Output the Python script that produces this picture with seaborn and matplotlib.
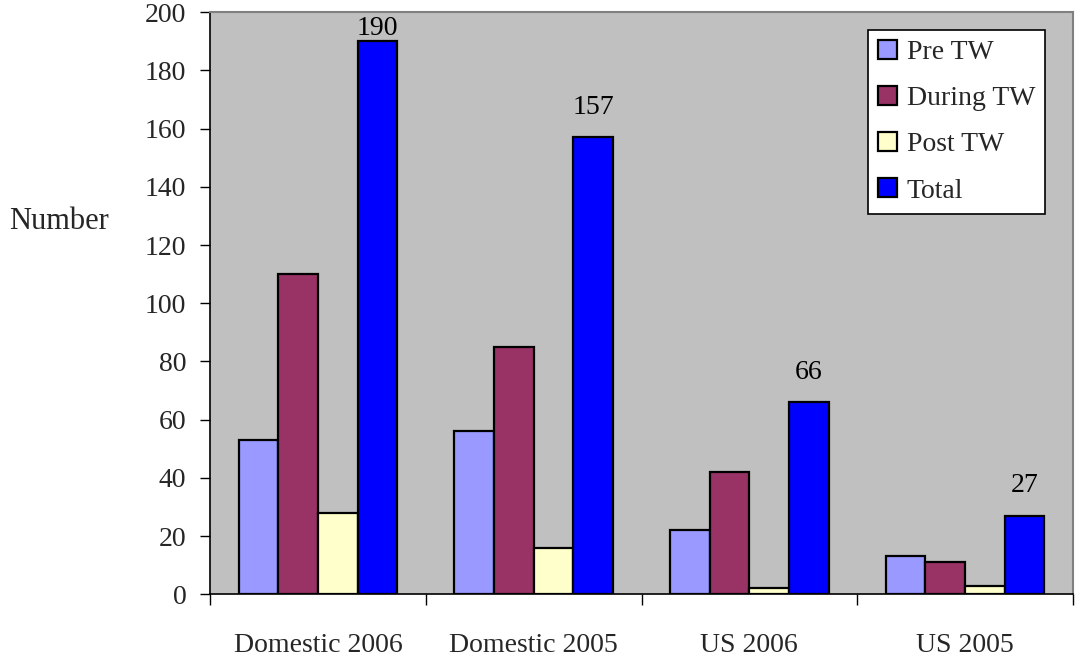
import matplotlib
matplotlib.use("Agg")
import matplotlib.pyplot as plt
from matplotlib.ticker import FixedLocator, NullFormatter
import seaborn as sns
import pandas as pd

# Counts per period of the travel window (TW), by market and year
categories = ["Domestic 2006", "Domestic 2005", "US 2006", "US 2005"]
series_names = ["Pre TW", "During TW", "Post TW", "Total"]
pre_tw = [53, 56, 22, 13]
during_tw = [110, 85, 42, 11]
post_tw = [28, 16, 2, 3]
total = [190, 157, 66, 27]
y_ticks = [0, 20, 40, 60, 80, 100, 120, 140, 160, 180, 200]

colors = ["#9999FF", "#993366", "#FFFFCC", "#0000FF"]

rows = []
for name, vals in zip(series_names, [pre_tw, during_tw, post_tw, total]):
    for cat, v in zip(categories, vals):
        rows.append({"category": cat, "series": name, "value": v})
df = pd.DataFrame(rows)

sns.set_theme(style="white")
plt.rcParams["font.family"] = ["Liberation Serif", "DejaVu Serif"]

fig = plt.figure(figsize=(10.75, 6.61), dpi=100)
ax = fig.add_axes([210 / 1075, (661 - 594.3) / 661, 863 / 1075, 582 / 661])
ax.set_facecolor("#C0C0C0")

sns.barplot(data=df, x="category", y="value", hue="series",
            order=categories, hue_order=series_names,
            palette=colors, width=0.735, gap=0, errorbar=None,
            edgecolor="black", linewidth=1.6, saturation=1, ax=ax)

ax.set_xlim(-0.5, 3.5)
ax.set_ylim(0, 200)
ax.set_yticks(y_ticks)
ax.tick_params(axis="y", direction="out", length=7, width=1, color="black",
               labelsize=20, pad=10, left=True)

# category labels centred, tick marks on the category boundaries
ax.set_xticks(range(len(categories)))
ax.set_xticklabels(categories)
ax.tick_params(axis="x", which="major", length=0, labelsize=20, pad=28)
ax.xaxis.set_minor_locator(FixedLocator([i - 0.5 for i in range(len(categories) + 1)]))
ax.xaxis.set_minor_formatter(NullFormatter())
ax.tick_params(axis="x", which="minor", direction="out", length=8, width=1,
               color="black", bottom=True)

for side in ["top", "right"]:
    ax.spines[side].set_color("#808080")
    ax.spines[side].set_linewidth(1.5)
for side in ["left", "bottom"]:
    ax.spines[side].set_color("black")
    ax.spines[side].set_linewidth(1.2)

ax.set_xlabel("")
ax.set_ylabel("Number", rotation=0, fontsize=22, ha="center", va="center")
ax.yaxis.set_label_coords(-0.175, 0.64)

# value labels above the Total bars
total_bars = ax.containers[series_names.index("Total")]
for bar, v in zip(total_bars, total):
    x = bar.get_x() + bar.get_width() / 2
    y = min(v + 10.3, 194.6)
    ax.text(x, y, str(v), ha="center", va="center", fontsize=20, color="black")

leg = ax.legend(loc="upper right", bbox_to_anchor=(0.968, 0.9696),
                borderaxespad=0, frameon=True, fancybox=False,
                edgecolor="black", framealpha=1, fontsize=20,
                handlelength=0.68, handleheight=0.68, handletextpad=0.37,
                labelspacing=0.75, borderpad=0.36)
leg.get_frame().set_linewidth(1.2)

fig.savefig("out.png", dpi=100, facecolor="white")
